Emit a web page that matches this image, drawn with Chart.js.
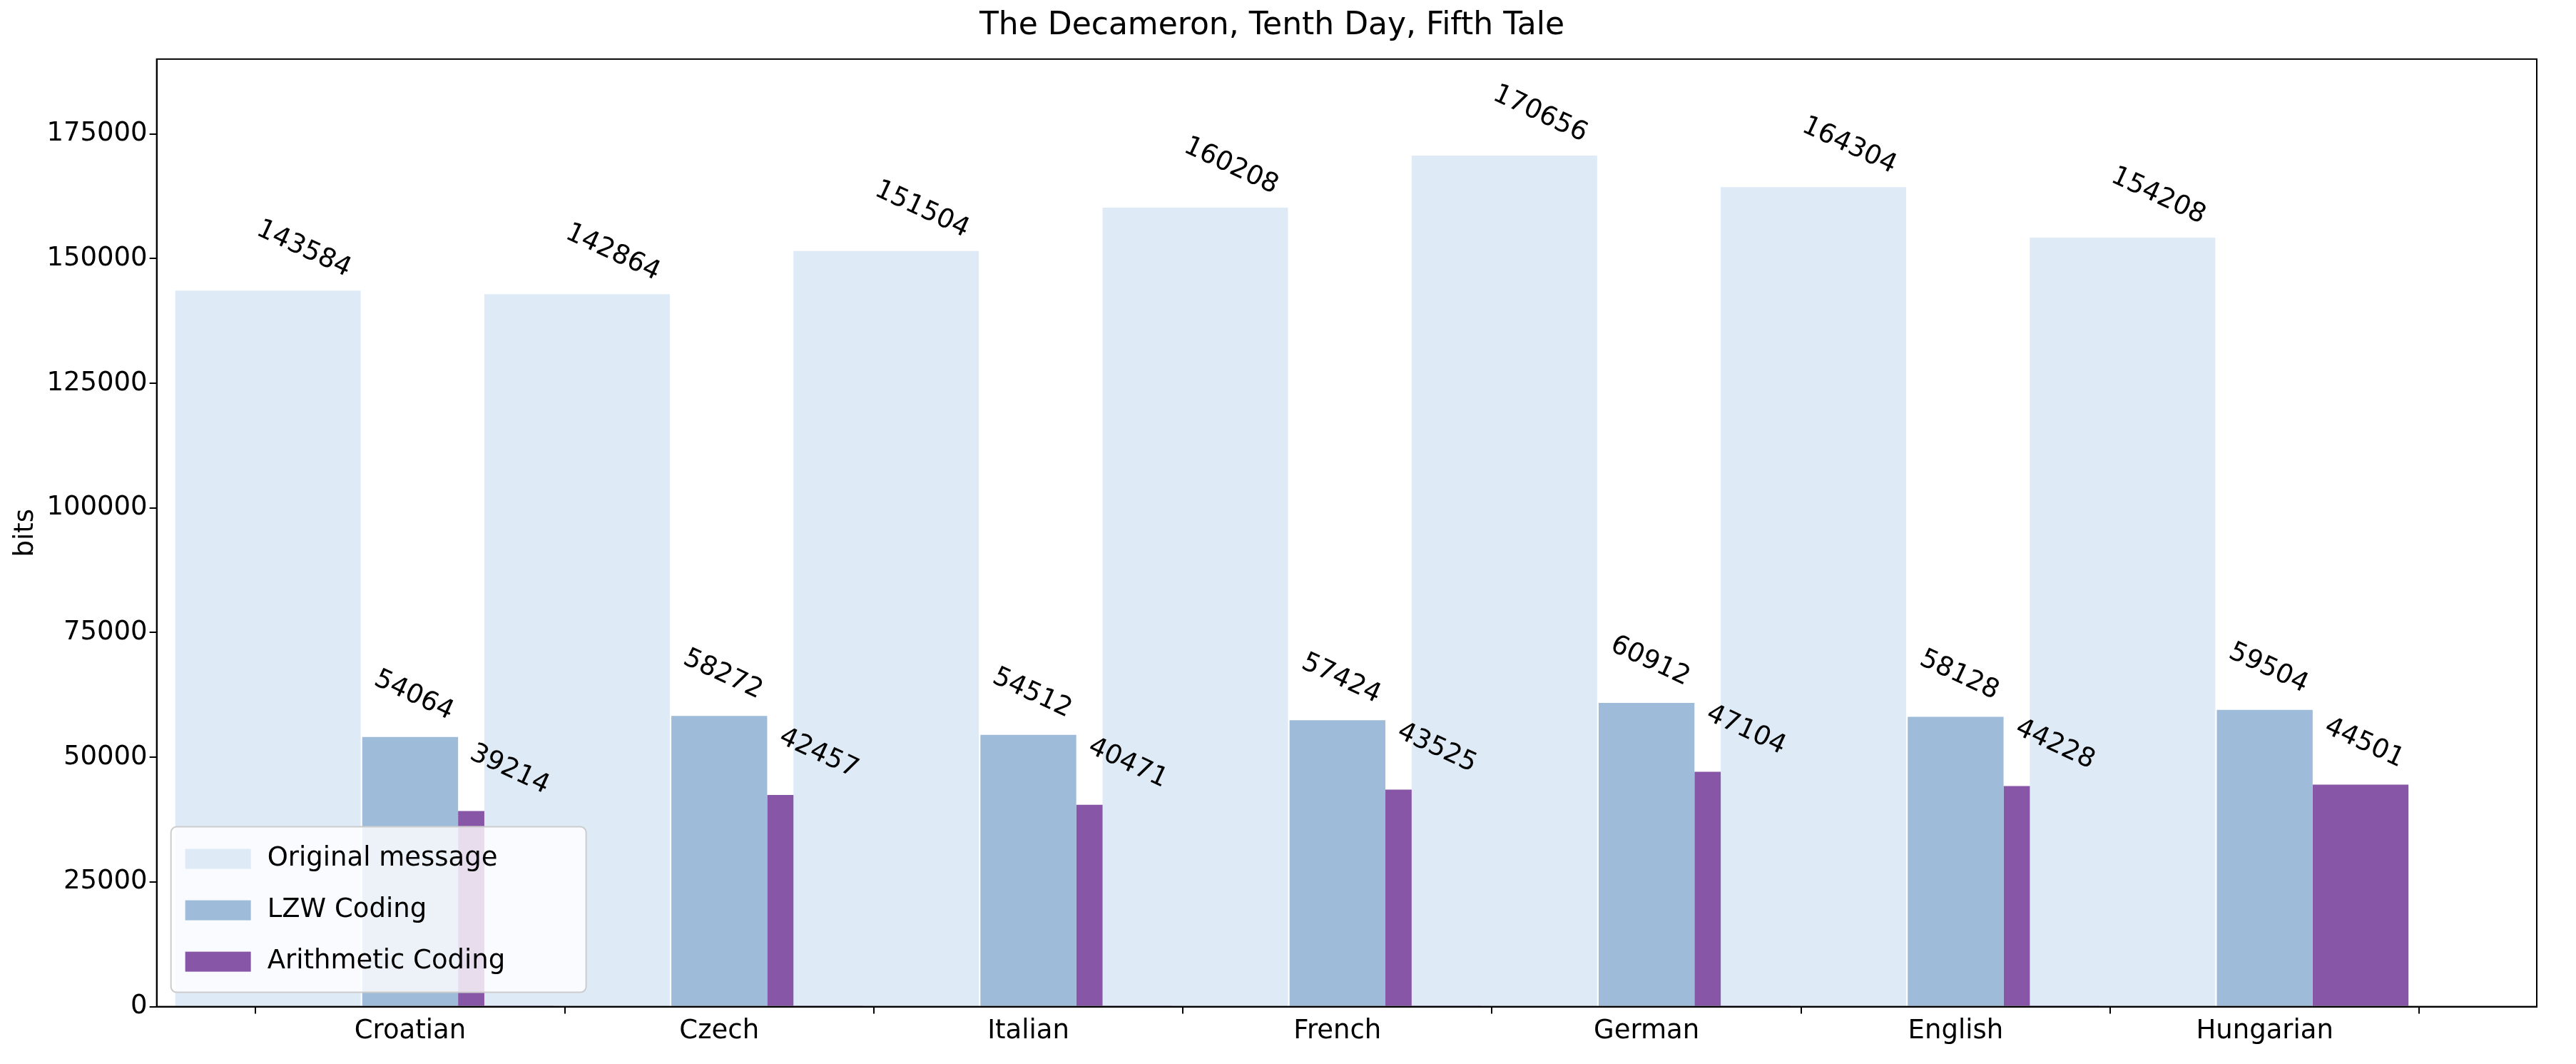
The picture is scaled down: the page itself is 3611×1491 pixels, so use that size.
<!DOCTYPE html>
<html>
<head>
<script src="https://cdn.jsdelivr.net/npm/chart.js@4"></script>
<style>
html,body{margin:0;padding:0;background:#fff;}
#wrap{width:3611px;height:1491px;}
</style>
</head>
<body>
<div id="wrap"><canvas id="myChart" width="3611" height="1491"></canvas></div>
<script>
// Daten
const languages = ['Croatian', 'Czech', 'Italian', 'French', 'German', 'English', 'Hungarian'];
const originalBits = [143584, 142864, 151504, 160208, 170656, 164304, 154208];
const lzwBits = [54064, 58272, 54512, 57424, 60912, 58128, 59504];
const arithmeticBits = [39214, 42457, 40471, 43525, 47104, 44228, 44501];
const yTicks = [0, 25000, 50000, 75000, 100000, 125000, 150000, 175000];

const FONT = 'DejaVu Sans';
Chart.defaults.font.family = FONT;
Chart.defaults.color = '#000';

function toPoints(values) {
    return values.map((v, i) => ({ x: i, y: v }));
}

// Balken innerhalb der Gruppe verschieben (in Kategorie-Einheiten)
const groupShift = {
    id: 'groupShift',
    afterDatasetsUpdate(chart) {
        const xs = chart.scales.x;
        const unit = xs.getPixelForValue(1) - xs.getPixelForValue(0);
        chart.data.datasets.forEach((ds, di) => {
            const meta = chart.getDatasetMeta(di);
            meta.data.forEach((bar, i) => {
                bar.x = xs.getPixelForValue(i) + ds.shift * unit;
                bar.width = ds.widthUnits * unit;
            });
        });
    }
};

// Beschriftung der Balken, gedreht
const barLabels = {
    id: 'barLabels',
    afterDatasetsDraw(chart) {
        const ctx = chart.ctx;
        ctx.save();
        ctx.font = '37px ' + FONT;
        ctx.fillStyle = '#000';
        chart.data.datasets.forEach((ds, di) => {
            chart.getDatasetMeta(di).data.forEach((bar, i) => {
                ctx.save();
                ctx.translate(bar.x + ds.labelDx, bar.y - 58);
                ctx.rotate(25 * Math.PI / 180);
                ctx.textAlign = 'center';
                ctx.textBaseline = 'middle';
                ctx.fillText(String(ds.data[i].y), 0, 0);
                ctx.restore();
            });
        });
        ctx.restore();
    }
};

// Legende unten links im Diagramm
const innerLegend = {
    id: 'innerLegend',
    afterDraw(chart) {
        const ctx = chart.ctx;
        const a = chart.chartArea;
        const x = a.left + 20, h = 232, y = a.bottom - 20 - h, w = 582;
        ctx.save();
        ctx.fillStyle = 'rgba(255,255,255,0.8)';
        ctx.strokeStyle = '#ccc';
        ctx.lineWidth = 2;
        ctx.beginPath();
        ctx.roundRect(x, y, w, h, 8);
        ctx.fill();
        ctx.stroke();
        ctx.font = '37px ' + FONT;
        ctx.textBaseline = 'middle';
        chart.data.datasets.forEach((ds, i) => {
            const cy = y + 45 + i * 72;
            ctx.fillStyle = ds.backgroundColor;
            ctx.fillRect(x + 20, cy - 14, 92, 28);
            ctx.fillStyle = '#000';
            ctx.fillText(ds.label, x + 135, cy);
        });
        ctx.restore();
    }
};

const ctx = document.getElementById('myChart').getContext('2d');
new Chart(ctx, {
    type: 'bar',
    data: {
        datasets: [
            { label: 'Original message', data: toPoints(originalBits), backgroundColor: '#deebf7', shift: -0.46, widthUnits: 0.6, labelDx: 50 },
            { label: 'LZW Coding', data: toPoints(lzwBits), backgroundColor: '#9ebcda', shift: 0, widthUnits: 0.31, labelDx: 5 },
            { label: 'Arithmetic Coding', data: toPoints(arithmeticBits), backgroundColor: '#8856a7', shift: 0.31, widthUnits: 0.31, labelDx: 5 }
        ]
    },
    options: {
        responsive: false,
        animation: false,
        datasets: { bar: { grouped: false } },
        layout: { padding: { left: 10, right: 55, top: 10, bottom: 20 } },
        scales: {
            x: {
                type: 'linear',
                min: -0.82,
                max: 6.88,
                offset: false,
                grid: { display: true, drawOnChartArea: false, drawTicks: true, tickLength: 10, color: '#000', lineWidth: 2 },
                border: { display: true, color: '#000', width: 2 },
                afterBuildTicks(axis) { axis.ticks = languages.map((_, i) => ({ value: i })); },
                ticks: {
                    font: { size: 37 },
                    callback: (v) => languages[v] ?? ''
                }
            },
            y: {
                min: 0,
                max: 190000,
                grid: { display: true, drawOnChartArea: false, drawTicks: true, tickLength: 10, color: '#000', lineWidth: 2 },
                border: { display: true, color: '#000', width: 2 },
                afterBuildTicks(axis) { axis.ticks = yTicks.map(v => ({ value: v })); },
                ticks: { font: { size: 37 }, callback: (v) => String(v) },
                title: { display: true, text: 'bits', font: { size: 37 } }
            }
        },
        plugins: {
            legend: { display: false },
            tooltip: { enabled: false },
            title: {
                display: true,
                text: 'The Decameron, Tenth Day, Fifth Tale',
                font: { size: 44, weight: 'normal' },
                padding: { bottom: 20 }
            }
        }
    },
    plugins: [groupShift, barLabels, innerLegend, {
        id: 'frame',
        afterDraw(chart) {
            const a = chart.chartArea, c = chart.ctx;
            c.save();
            c.strokeStyle = '#000';
            c.lineWidth = 2;
            c.strokeRect(a.left, a.top, a.right - a.left, a.bottom - a.top);
            c.restore();
        }
    }]
});
</script>
</body>
</html>
